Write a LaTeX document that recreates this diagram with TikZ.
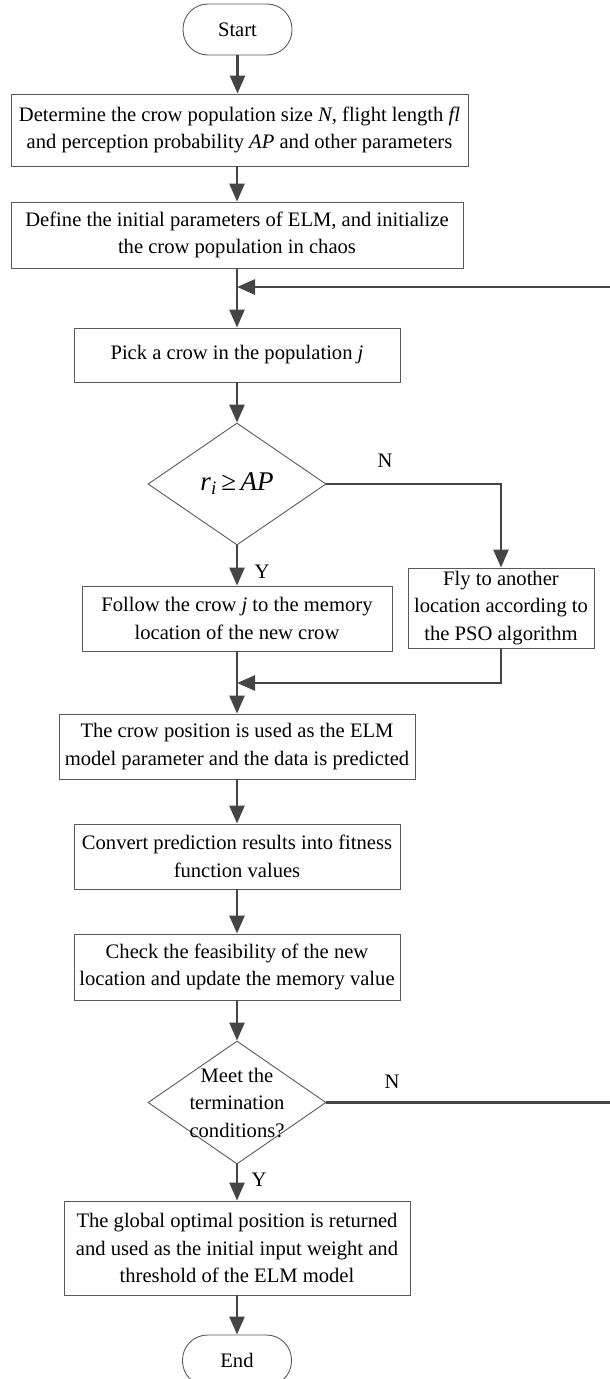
\documentclass[tikz,border=0pt]{standalone}
\usepackage{fontspec}
\setmainfont{Liberation Serif}
\usetikzlibrary{arrows.meta,shapes.geometric}
\definecolor{linegray}{HTML}{454545}
\definecolor{boxgray}{HTML}{5A5A5A}
\begin{document}
\begin{tikzpicture}[x=1pt,y=-1pt,
  box/.style={draw=boxgray,line width=0.9pt,inner sep=0pt,align=center,font=\fontsize{20.6}{27.5}\selectfont},
  term/.style={box,rounded corners=25pt,minimum width=109pt,minimum height=51pt},
  dia/.style={draw=boxgray,line width=0.9pt,diamond,inner sep=0pt,minimum width=178pt,minimum height=122pt},
  flow/.style={draw=linegray,line width=2.6pt,-{Triangle[length=18pt,width=15pt]}},
  lbl/.style={font=\fontsize{20.6}{22}\selectfont,inner sep=0pt},
  dtext/.style={align=center,inner sep=0pt,font=\fontsize{20.6}{27.5}\selectfont}
]
\useasboundingbox (0,0) rectangle (610,1379);
\clip (0,0) rectangle (610,1379);

\node[term] (start) at (237.5,29.5) {Start};
\node[box,minimum width=457pt,minimum height=72pt] (b1) at (239.5,130)
  {Determine the crow population size \textit{N}, flight length \textit{fl}\\and perception probability \textit{AP} and other parameters};
\node[box,minimum width=452pt,minimum height=66pt] (b2) at (237,235)
  {Define the initial parameters of ELM, and initialize\\the crow population in chaos};
\node[box,minimum width=326pt,minimum height=54pt] (pick) at (237,355)
  {Pick a crow in the population \textit{j}};
\node[dia] (d1) at (237,484) {};
\node[dtext,font=\fontsize{27}{30}\selectfont] at (d1) {\textit{r}\textsubscript{\textit{i}}\,≥\,\textit{AP}};
\node[box,minimum width=310pt,minimum height=65pt] (follow) at (237,618.5)
  {Follow the crow \textit{j} to the memory\\location of the new crow};
\node[box,minimum width=186pt,minimum height=80pt] (fly) at (501,608)
  {Fly to another\\location according to\\the PSO algorithm};
\node[box,minimum width=356pt,minimum height=65pt] (elm) at (237,746.5)
  {The crow position is used as the ELM\\model parameter and the data is predicted};
\node[box,minimum width=326pt,minimum height=65pt] (conv) at (237,856.5)
  {Convert prediction results into fitness\\function values};
\node[box,minimum width=326pt,minimum height=66pt] (check) at (237,967)
  {Check the feasibility of the new\\location and update the memory value};
\node[dia,minimum height=123pt] (d2) at (237,1102.5) {};
\node[dtext] at (d2) {Meet the\\termination\\conditions?};
\node[box,minimum width=346pt,minimum height=94pt] (final) at (237,1248)
  {The global optimal position is returned\\and used as the initial input weight and\\threshold of the ELM model};
\node[term] (end) at (237,1360.5) {End};

\node[lbl] (n1) at (385,461) {N};
\node[lbl] (y1) at (262,572) {Y};
\node[lbl] (n2) at (392,1082) {N};
\node[lbl] (y2) at (259,1180) {Y};

\coordinate (j1) at (237,287);
\coordinate (j2) at (237,683);
\coordinate (c1) at (501,484);
\coordinate (c2) at (501,683);
\coordinate (r1) at (625,1102.5);
\coordinate (r2) at (625,287);

\draw[flow] (start.south) -- (start.south |- b1.north);
\draw[flow] (b1.south -| b2.north) -- (b2.north);
\draw[flow] (b2.south) -- (pick.north);
\draw[flow] (pick.south) -- (d1.north);
\draw[flow] (d1.south) -- (follow.north);
\draw[flow] (d1.east) -- (c1) -- (fly.north);
\draw[flow] (follow.south) -- (elm.north);
\draw[flow] (fly.south) -- (c2) -- (j2);
\draw[flow] (elm.south) -- (conv.north);
\draw[flow] (conv.south) -- (check.north);
\draw[flow] (check.south) -- (d2.north);
\draw[flow] (d2.south) -- (final.north);
\draw[flow] (final.south) -- (end.north);
\draw[flow] (d2.east) -- (r1) -- (r2) -- (j1);
\end{tikzpicture}
\end{document}
